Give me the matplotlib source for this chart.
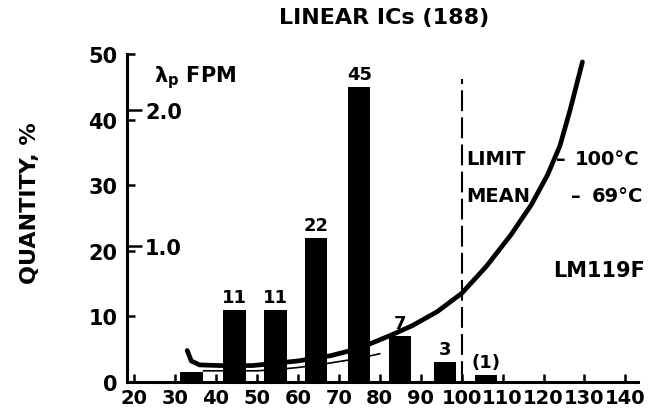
import matplotlib.pyplot as plt

plt.rcParams['font.family'] = ['DejaVu Sans']
plt.rcParams['font.weight'] = 'bold'
plt.rcParams['mathtext.fontset'] = 'dejavusans'

# junction temperature histogram (% of parts per 10 degC bin)
bin_centers = [34, 44.5, 54.5, 64.5, 75, 85, 96, 106]
quantity = [1.5, 11, 11, 22, 45, 7, 3, 1]
bar_labels = ['', '11', '11', '22', '45', '7', '3', '(1)']

# failure rate curve, read on the % scale (2.0 FPM ~ 41.5 %)
curve_t = [33, 34, 36, 41, 49, 60, 68, 73, 78, 83, 88, 94, 100, 106, 112, 117,
           121, 124, 126.5, 129.5]
curve_q = [4.8, 3.2, 2.6, 2.5, 2.5, 3.2, 4.0, 4.8, 5.9, 7.2, 8.6, 10.7, 13.5,
           17.6, 22.4, 27.0, 31.6, 36.0, 41.5, 48.8]
lower_t = [37, 45, 50, 55, 60, 65, 70, 75, 80]
lower_q = [1.7, 1.7, 1.7, 1.9, 2.2, 2.6, 3.1, 3.6, 4.3]

pct_per_fpm = 20.75
fpm_ticks = [1.0, 2.0]
x_ticks = list(range(20, 141, 10))
y_ticks = list(range(0, 51, 10))
limit_temp = 100
mean_temp = 69

fig = plt.figure(figsize=(6.72, 4.14), dpi=100)
ax = fig.add_axes([0.189, 0.075, 0.76, 0.792])

ax.bar(bin_centers, quantity, width=5.5, color='black', zorder=2)
for x, h, s in zip(bin_centers, quantity, bar_labels):
    ax.annotate(s, (x, h), xytext=(0, 3), textcoords='offset points',
                ha='center', va='bottom', fontsize=13)

ax.plot(curve_t, curve_q, color='black', lw=3.4, solid_capstyle='round',
        solid_joinstyle='round', zorder=3)
ax.plot(lower_t, lower_q, color='black', lw=1.2, zorder=3)
ax.axvline(limit_temp, ymax=0.924, color='black', lw=1.5, ls=(0, (10, 3)))

ax.set_xlim(18.3, 143)
ax.set_ylim(0, 50)
ax.set_xticks(x_ticks)
ax.set_yticks(y_ticks)
ax.spines['top'].set_visible(False)
ax.spines['right'].set_visible(False)
ax.spines['left'].set_linewidth(2.2)
ax.spines['bottom'].set_linewidth(2.2)
ax.tick_params(axis='both', direction='in', length=6, width=1.8)
ax.tick_params(axis='y', pad=7, labelsize=15)
ax.tick_params(axis='x', pad=4, labelsize=14)

# lambda_p scale drawn on the inside of the left axis
sec = ax.secondary_yaxis('left', functions=(lambda y: y / pct_per_fpm,
                                            lambda v: v * pct_per_fpm))
sec.set_yticks(fpm_ticks)
sec.set_yticklabels([f'{v:.1f}' for v in fpm_ticks])
sec.tick_params(direction='in', length=11, width=1.8, pad=-13, labelsize=15)
for lab in sec.get_yticklabels():
    lab.set_horizontalalignment('left')
sec.spines['left'].set_visible(False)

ax.text(25, 46.6, r'$\mathbf{\lambda}_\mathbf{p}$ FPM', fontsize=15,
        va='center', ha='left')

ax.text(101.2, 34.0, 'LIMIT', fontsize=14, va='center', ha='left')
ax.text(124.1, 34.0, '\u2013', fontsize=14, va='center', ha='center')
ax.text(143.3, 34.0, f'{limit_temp}\u00b0C', fontsize=14, va='center', ha='right')
ax.text(101.2, 28.4, 'MEAN', fontsize=14, va='center', ha='left')
ax.text(127.8, 28.4, '\u2013', fontsize=14, va='center', ha='center')
ax.text(144.2, 28.4, f'{mean_temp}\u00b0C', fontsize=14, va='center', ha='right')
ax.text(122.4, 17.1, 'LM119F', fontsize=15, va='center', ha='left')

fig.text(0.571, 0.957, 'LINEAR ICs (188)', fontsize=16, ha='center', va='center')
fig.text(0.045, 0.51, 'QUANTITY, %', fontsize=16, rotation=90,
         ha='center', va='center')

fig.savefig('out.png', dpi=100)
